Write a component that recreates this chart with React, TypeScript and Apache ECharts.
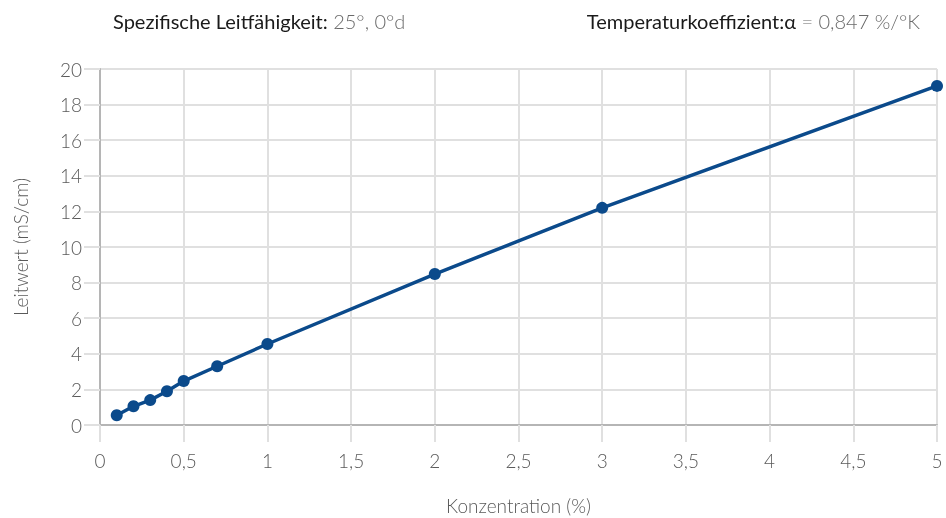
import React, { useEffect, useRef } from "react";
import * as echarts from "echarts";

const concentration = [0.1, 0.2, 0.3, 0.4, 0.5, 0.7, 1, 2, 3, 5];
const conductivity = [0.55, 1.05, 1.4, 1.9, 2.47, 3.3, 4.55, 8.48, 12.2, 19.05];
const xAxisTitle = "Konzentration (%)";
const yAxisTitle = "Leitwert (mS/cm)";
const headerLeftLabel = "Spezifische Leitfähigkeit:";
const headerLeftValue = " 25°, 0°d";
const headerRightLabel = "Temperaturkoeffizient:α";
const headerRightValue = " = 0,847 %/°K";

const FONT = "Lato, 'Noto Sans', sans-serif";

export default function App() {
  const ref = useRef<HTMLDivElement>(null);
  useEffect(() => {
    if (!ref.current) return;
    const chart = echarts.init(ref.current, null, { renderer: "svg" });
    const data = concentration.map((c, i) => [c, conductivity[i]]);
    chart.setOption({
      animation: false,
      textStyle: { fontFamily: FONT },
      grid: { left: 100, right: 9, top: 69, bottom: 93, containLabel: false, outerBoundsMode: "none" },
      graphic: [
        {
          type: "text",
          left: 113,
          top: 11,
          style: {
            text: `{a|${headerLeftLabel}}{b|${headerLeftValue}}`,
            rich: {
              a: { fontSize: 20, fill: "#1a1a1a", fontFamily: FONT },
              b: { fontSize: 20, fill: "#6a6a6a", fontFamily: FONT, fontWeight: 300 },
            },
          },
        },
        {
          type: "text",
          right: 26,
          top: 11,
          style: {
            text: `{a|${headerRightLabel}}{b|${headerRightValue}}`,
            rich: {
              a: { fontSize: 20, fill: "#1a1a1a", fontFamily: FONT },
              b: { fontSize: 20, fill: "#6a6a6a", fontFamily: FONT, fontWeight: 300 },
            },
          },
        },
      ],
      xAxis: {
        type: "value",
        min: 0,
        max: 5,
        interval: 0.5,
        name: xAxisTitle,
        nameLocation: "middle",
        nameGap: 71,
        nameTextStyle: { fontSize: 19, color: "#5a5a5a", fontFamily: FONT, fontWeight: 300 },
        axisLine: { show: true, lineStyle: { color: "#b5b5b5", width: 2 } },
        axisTick: { show: true, length: 17, lineStyle: { color: "#e0e0e0", width: 2 } },
        splitLine: { show: true, lineStyle: { color: "#e0e0e0", width: 2 } },
        axisLabel: {
          margin: 26,
          fontSize: 19,
          color: "#5a5a5a",
          fontFamily: FONT,
          fontWeight: 300,
          formatter: (v: number) => String(v).replace(".", ","),
        },
      },
      yAxis: {
        type: "value",
        min: 0,
        max: 20,
        interval: 2,
        name: yAxisTitle,
        nameLocation: "middle",
        nameGap: 70,
        nameRotate: 90,
        nameTextStyle: { fontSize: 19, color: "#5a5a5a", fontFamily: FONT, fontWeight: 300 },
        axisLine: { show: true, lineStyle: { color: "#b5b5b5", width: 2 } },
        axisTick: { show: true, length: 16, lineStyle: { color: "#e0e0e0", width: 2 } },
        splitLine: { show: true, lineStyle: { color: "#e0e0e0", width: 2 } },
        axisLabel: {
          margin: 18,
          fontSize: 19,
          color: "#5a5a5a",
          fontFamily: FONT,
          fontWeight: 300,
        },
      },
      series: [
        {
          type: "line",
          data,
          symbol: "circle",
          symbolSize: 12,
          lineStyle: { color: "#0b4a8b", width: 3.5 },
          itemStyle: { color: "#0b4a8b" },
        },
      ],
    });
    return () => chart.dispose();
  }, []);
  return (
    <div
      ref={ref}
      style={{ position: "fixed", left: 0, top: 0, width: 946, height: 518 }}
    />
  );
}
